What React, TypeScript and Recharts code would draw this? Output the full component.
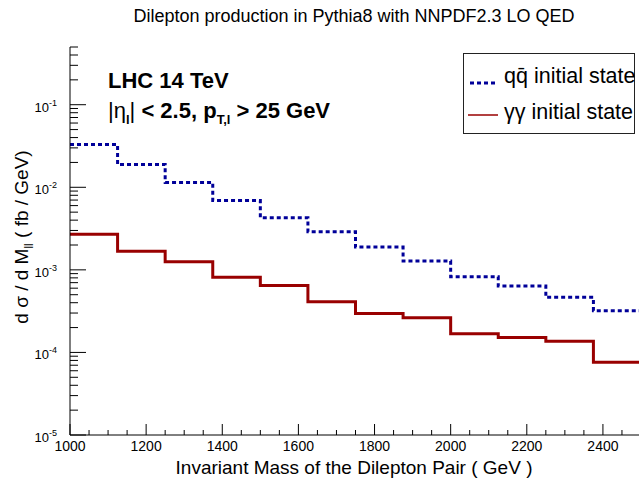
import React from 'react'
import { LineChart, Line, XAxis, YAxis } from 'recharts'

// bin edges in GeV (12 bins of 125 GeV)
const BIN_EDGES = [1000, 1125, 1250, 1375, 1500, 1625, 1750, 1875, 2000, 2125, 2250, 2375, 2500]

// d sigma / d M_ll  (fb / GeV), one value per bin
const QQ = [0.0330, 0.0189, 0.01145, 0.00693, 0.00428, 0.00289, 0.00189, 0.00128, 0.000824, 0.000637, 0.000465, 0.000320]
const YY = [0.00269, 0.00168, 0.00125, 0.000811, 0.000648, 0.000411, 0.000297, 0.000263, 0.000168, 0.000152, 0.000137, 0.0000759]

const X_LABELS = [1000, 1200, 1400, 1600, 1800, 2000, 2200, 2400]
const X_TICKS = [
  1000, 1050, 1100, 1150, 1200, 1250, 1300, 1350, 1400, 1450, 1500, 1550, 1600, 1650, 1700, 1750,
  1800, 1850, 1900, 1950, 2000, 2050, 2100, 2150, 2200, 2250, 2300, 2350, 2400, 2450, 2500,
]
const Y_DECADES = [1e-5, 1e-4, 1e-3, 1e-2, 1e-1]
const Y_MULT = [1, 2, 3, 4, 5, 6, 7, 8, 9]
const Y_MAX = 0.5

const FONT = '"Liberation Sans", Arial, Helvetica, sans-serif'
const BLUE = '#000099'
const RED = '#990000'

const data = BIN_EDGES.map((x, i) => ({
  x,
  qq: QQ[Math.min(i, QQ.length - 1)],
  yy: YY[Math.min(i, YY.length - 1)],
}))

const yTicks = Y_DECADES.flatMap(d => Y_MULT.map(m => m * d)).filter(v => v <= Y_MAX * 1.0001)

function XTick({ x, y, payload }: any) {
  const major = X_LABELS.includes(payload.value)
  return (
    <g>
      <line x1={x} x2={x} y1={y} y2={y - (major ? 11 : 5)} stroke="#000" />
      {major && (
        <text x={x} y={y + 16} textAnchor="middle" fontSize={14} fontFamily={FONT} fill="#000">
          {payload.value}
        </text>
      )}
    </g>
  )
}

function YTick({ x, y, payload }: any) {
  const lg = Math.log10(payload.value)
  const e = Math.round(lg)
  const major = Math.abs(lg - e) < 1e-6
  return (
    <g>
      <line x1={x} x2={x + (major ? 16 : 8)} y1={y} y2={y} stroke="#000" />
      {major && (
        <text x={x - 13} y={y + 7} textAnchor="end" fontSize={13} fontFamily={FONT} fill="#000">
          10<tspan dy={-6} fontSize={9}>{e}</tspan>
        </text>
      )}
    </g>
  )
}

export default function App() {
  return (
    <div style={{ position: 'fixed', left: 0, top: 0, width: 639, height: 478, overflow: 'hidden', background: '#fff' }}>
      <LineChart width={660} height={478} data={data} margin={{ top: 47, right: 19, bottom: 0, left: 0 }}>
        <XAxis xAxisId="top" orientation="top" type="number" dataKey="x" domain={[1000, 2500]}
          height={0} tick={false} tickLine={false} axisLine={{ stroke: '#000' }} />
        <XAxis type="number" dataKey="x" domain={[1000, 2500]} allowDataOverflow ticks={X_TICKS}
          interval={0} tick={<XTick />} tickLine={false} tickSize={0} tickMargin={0} height={43}
          axisLine={{ stroke: '#000' }} />
        <YAxis type="number" scale="log" domain={[1e-5, Y_MAX]} allowDataOverflow ticks={yTicks}
          interval={0} tick={<YTick />} tickLine={false} tickSize={0} tickMargin={0} width={70}
          axisLine={{ stroke: '#000' }} />
        <Line type="stepAfter" dataKey="qq" stroke={BLUE} strokeWidth={3} strokeDasharray="4 3"
          dot={false} activeDot={false} isAnimationActive={false} />
        <Line type="stepAfter" dataKey="yy" stroke={RED} strokeWidth={3}
          dot={false} activeDot={false} isAnimationActive={false} />
      </LineChart>

      <svg width={639} height={478} style={{ position: 'absolute', left: 0, top: 0, pointerEvents: 'none' }}
        fontFamily={FONT}>
        <text x={354} y={22} textAnchor="middle" fontSize={18} fill="#000">
          Dilepton production in Pythia8 with NNPDF2.3 LO QED
        </text>
        <text x={354} y={474} textAnchor="middle" fontSize={19} fill="#000">
          Invariant Mass of the Dilepton Pair ( GeV )
        </text>
        <text transform="translate(28,237) rotate(-90)" textAnchor="middle" fontSize={19} fill="#000">
          d σ / d M<tspan dy={5} fontSize={12}>ll</tspan><tspan dy={-5}> ( fb / GeV)</tspan>
        </text>

        <text x={108} y={88} fontSize={22} fontWeight="bold" fill="#000">LHC 14 TeV</text>
        <text x={108} y={118} fontSize={22} fontWeight="bold" fill="#000">
          <tspan fontWeight="normal">|η</tspan><tspan dy={6} fontSize={13}>l</tspan>
          <tspan dy={-6} fontWeight="normal">|</tspan> &lt; 2.5, p<tspan dy={6} fontSize={13}>T,l</tspan>
          <tspan dy={-6}> &gt; 25 GeV</tspan>
        </text>

        <rect x={463.5} y={53.5} width={171} height={80} fill="#fff" stroke="#222" />
        <line x1={470} x2={498} y1={83} y2={83} stroke={BLUE} strokeWidth={3} strokeDasharray="4 3" />
        <text x={504} y={82.5} fontSize={21.5} fill="#000">
          q<tspan>q̄</tspan> initial state
        </text>
        <line x1={468} x2={498} y1={115} y2={115} stroke={RED} strokeWidth={1.5} />
        <text x={504} y={119} fontSize={21.5} fill="#000">γγ initial state</text>
      </svg>
    </div>
  )
}
